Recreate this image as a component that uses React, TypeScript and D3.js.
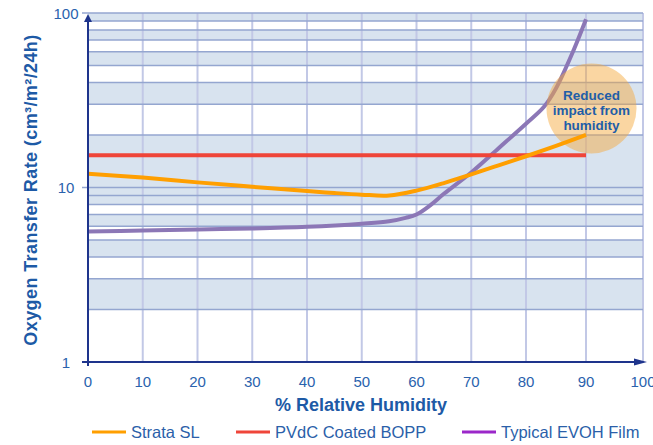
import React, { useEffect, useRef } from "react";
import * as d3 from "d3";

// % relative humidity vs oxygen transfer rate
const strataRH = [0, 10, 20, 30, 40, 45, 50, 55, 60, 65, 70, 75, 80, 85, 90];
const strataOTR = [12.0, 11.4, 10.7, 10.1, 9.55, 9.3, 9.1, 9.0, 9.6, 10.6, 11.9, 13.4, 15.1, 17.3, 20.0];

const pvdcRH = [0, 90];
const pvdcOTR = [15.3, 15.3];

const evohRH = [0, 10, 20, 30, 40, 50, 55, 58, 60, 62.5, 65, 70, 75, 80, 83, 85, 88, 90];
const evohOTR = [5.6, 5.67, 5.75, 5.82, 5.95, 6.2, 6.4, 6.7, 7.0, 7.9, 9.2, 12.2, 16.8, 23.2, 29, 37, 62, 92];

const xTicks = [0, 10, 20, 30, 40, 50, 60, 70, 80, 90, 100];
const yTicks = [1, 10, 100];
// shaded horizontal bands (value ranges)
const bands: [number, number][] = [[90, 100], [70, 80], [50, 60], [30, 40], [8, 20], [6, 7], [4, 5], [2, 3]];

const legendNames = ["Strata SL", "PVdC Coated BOPP", "Typical EVOH Film"];
const legendColors = ["#ff9f00", "#ef4539", "#9b27c9"];

const noteLines = ["Reduced", "impact from", "humidity"];

const App: React.FC = () => {
  const chartRef = useRef<HTMLDivElement>(null);

  useEffect(() => {
    document.body.style.margin = "0";
    const root = d3.select(chartRef.current);
    root.selectAll("*").remove();

    const W = 653, H = 445;
    const svg = root.append("svg").attr("width", W).attr("height", H)
      .style("font-family", "'Liberation Sans', Arial, sans-serif");

    const x = d3.scaleLinear().domain([0, 80, 90, 100]).range([88, 526, 586, 643]);
    const y = d3.scaleLog().domain([1, 100]).range([362, 13]);
    const x0 = x(0), x1 = x(100);

    const axisColor = "#1e348c";
    const textColor = "#2a62ad";

    // bands
    svg.append("g").selectAll("rect").data(bands).enter().append("rect")
      .attr("x", x0).attr("width", x1 - x0)
      .attr("y", d => y(d[1])).attr("height", d => y(d[0]) - y(d[1]))
      .attr("fill", "#d8e3ef");

    // vertical grid
    svg.append("g").selectAll("line").data(xTicks.slice(1)).enter().append("line")
      .attr("x1", d => x(d)).attr("x2", d => x(d))
      .attr("y1", y(100)).attr("y2", y(1) + 1)
      .attr("stroke", "#c2c8e6").attr("stroke-width", 2);

    // horizontal grid (log minor ticks)
    svg.append("g").selectAll("line").data(y.ticks()).enter().append("line")
      .attr("x1", d => (yTicks.includes(d) ? x0 - 6 : x0)).attr("x2", x1)
      .attr("y1", d => y(d)).attr("y2", d => y(d))
      .attr("stroke", "#94a6d0").attr("stroke-width", 1.5);

    const line = d3.line<[number, number]>()
      .x(d => x(d[0])).y(d => y(d[1]))
      .curve(d3.curveCatmullRom.alpha(0.5));

    const zip = (a: number[], b: number[]) => a.map((v, i) => [v, b[i]] as [number, number]);

    svg.append("path").attr("d", line(zip(evohRH, evohOTR)))
      .attr("fill", "none").attr("stroke", "#8c77b6").attr("stroke-width", 4);
    svg.append("path").attr("d", line(zip(pvdcRH, pvdcOTR)))
      .attr("fill", "none").attr("stroke", "#ef4539").attr("stroke-width", 4);

    // annotation circle
    const cx = 591.5, cy = 108.5;
    svg.append("circle").attr("cx", cx).attr("cy", cy).attr("r", 45)
      .attr("fill", "#f4a93c").attr("fill-opacity", 0.48);

    svg.append("path").attr("d", line(zip(strataRH, strataOTR)))
      .attr("fill", "none").attr("stroke", "#ff9f00").attr("stroke-width", 4);

    svg.append("text").attr("text-anchor", "middle")
      .attr("font-size", 13.5).attr("font-weight", "bold").attr("fill", "#1f5ea8")
      .selectAll("tspan").data(noteLines).enter().append("tspan")
      .attr("x", cx).attr("y", (_, i) => cy - 9 + i * 15)
      .text(d => d);

    // axes
    const ax = svg.append("g");
    ax.append("line").attr("x1", x0).attr("x2", x0).attr("y1", y(1) + 4).attr("y2", 20)
      .attr("stroke", axisColor).attr("stroke-width", 2);
    ax.append("path").attr("d", `M${x0},14 L${x0 - 4},22 L${x0 + 4},22 Z`).attr("fill", axisColor);
    ax.append("line").attr("x1", x0 - 6).attr("x2", 638).attr("y1", y(1)).attr("y2", y(1))
      .attr("stroke", axisColor).attr("stroke-width", 2);
    ax.append("path").attr("d", `M647,${y(1)} L634,${y(1) - 3.5} L634,${y(1) + 3.5} Z`).attr("fill", axisColor);

    // tick labels
    svg.append("g").selectAll("text").data(xTicks).enter().append("text")
      .attr("x", d => x(d)).attr("y", 387)
      .attr("text-anchor", "middle").attr("font-size", 15).attr("fill", textColor)
      .text(d => d);
    svg.append("g").selectAll("text").data(yTicks).enter().append("text")
      .attr("x", 66).attr("y", d => y(d) + 5.5)
      .attr("text-anchor", "middle").attr("font-size", 15).attr("fill", textColor)
      .text(d => d);

    // titles
    svg.append("text").attr("x", 361).attr("y", 411)
      .attr("text-anchor", "middle").attr("font-size", 18).attr("font-weight", "bold")
      .attr("fill", "#1d5aa6").text("% Relative Humidity");
    svg.append("text").attr("transform", `translate(37,190) rotate(-90)`)
      .attr("text-anchor", "middle").attr("font-size", 18).attr("font-weight", "bold")
      .attr("letter-spacing", 0.4)
      .attr("fill", "#1d5aa6").text("Oxygen Transfer Rate (cm³/m²/24h)");

    // legend
    const legX = [92, 236, 462];
    const leg = svg.append("g").selectAll("g").data(legendNames).enter().append("g")
      .attr("transform", (_, i) => `translate(${legX[i]},432)`);
    leg.append("line").attr("x1", 0).attr("x2", 34).attr("y1", 0).attr("y2", 0)
      .attr("stroke", (_, i) => legendColors[i]).attr("stroke-width", 3);
    leg.append("text").attr("x", 39).attr("y", 6)
      .attr("font-size", 16.5).attr("fill", "#2b5fa9")
      .text(d => d);
  }, []);

  return <div ref={chartRef}></div>;
};

export default App;
